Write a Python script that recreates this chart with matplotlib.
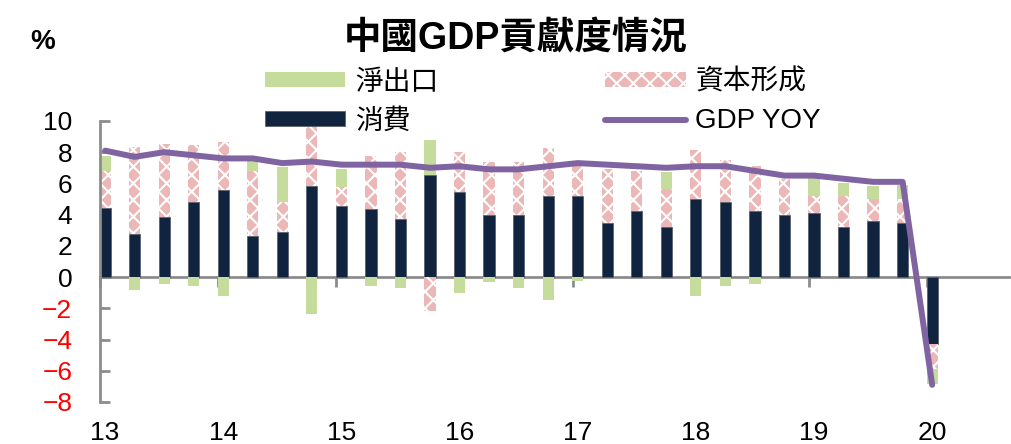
import numpy as np
import matplotlib
matplotlib.use("Agg")
from matplotlib import pyplot as plt

plt.rcParams['font.family'] = ['Liberation Sans', 'Noto Sans CJK TC', 'DejaVu Sans']
plt.rcParams['hatch.linewidth'] = 1.5

# quarterly data 2013Q1 .. 2020Q1 (contribution to GDP, %)
consumption = [4.45, 2.73, 3.85, 4.81, 5.59, 2.60, 2.88, 5.82,
               4.56, 4.34, 3.70, 6.56, 5.46, 3.96, 3.97, 5.21,
               5.21, 3.46, 4.23, 3.23, 4.99, 4.81, 4.23, 3.97,
               4.08, 3.23, 3.59, 3.44, -4.30]
capital = [2.36, 5.59, 4.68, 3.62, 3.06, 4.21, 1.93, 4.00,
           1.19, 3.44, 4.34, -2.15, 2.54, 3.40, 3.42, 3.05,
           2.15, 3.46, 2.58, 2.38, 3.16, 2.71, 2.91, 2.31,
           1.10, 1.99, 1.44, 1.55, -1.57]
net_exports = [0.97, -0.82, -0.45, -0.56, -1.19, 0.65, 2.26, -2.39,
               1.17, -0.56, -0.71, 2.19, -1.03, -0.30, -0.71, -1.45,
               -0.28, 0.00, 0.00, 1.10, -1.19, -0.56, -0.43, 0.00,
               1.14, 0.78, 0.82, 0.90, -0.97]
gdp_yoy = [8.1, 7.7, 8.0, 7.8, 7.6, 7.6, 7.3, 7.4,
           7.2, 7.2, 7.2, 7.0, 7.1, 6.9, 6.9, 7.1,
           7.3, 7.2, 7.1, 7.0, 7.1, 7.1, 6.8, 6.5,
           6.5, 6.3, 6.1, 6.1, -6.9]
year_labels = ['13', '14', '15', '16', '17', '18', '19', '20']

c_green = '#c5dc9c'
c_pink = '#ebb7b7'
c_navy = '#10243f'
c_purple = '#8064a2'
c_axis = '#8c8c8c'

x = np.arange(len(gdp_yoy))
w = 0.38

fig = plt.figure(figsize=(10.11, 4.44), dpi=100)
ax = fig.add_axes([0.099, 0.0946, 0.899, 0.633])

# stacked bars, positives upward and negatives downward
pos_b = np.zeros(len(x))
neg_b = np.zeros(len(x))
series = [(consumption, dict(color=c_navy, edgecolor='#5a6270', linewidth=0.6), '消費'),
          (capital, dict(color=c_pink, edgecolor='white', hatch='xx', linewidth=0), '資本形成'),
          (net_exports, dict(color=c_green, linewidth=0), '淨出口')]
handles = {}
for vals, style, name in series:
    v = np.array(vals)
    bottom = np.where(v >= 0, pos_b, neg_b)
    handles[name] = ax.bar(x, v, w, bottom=bottom, zorder=2, **style)
    pos_b = pos_b + np.clip(v, 0, None)
    neg_b = neg_b + np.clip(v, None, 0)

line, = ax.plot(x, gdp_yoy, color=c_purple, linewidth=4.3, zorder=3,
                solid_joinstyle='round', solid_capstyle='round')

# axes styling
ax.set_xlim(-0.17, 30.6)
ax.set_ylim(-8, 10)
ax.spines['top'].set_visible(False)
ax.spines['right'].set_visible(False)
ax.spines['left'].set_color(c_axis)
ax.spines['left'].set_linewidth(2)
ax.spines['bottom'].set_position(('data', 0))
ax.spines['bottom'].set_color(c_axis)
ax.spines['bottom'].set_linewidth(2)
ax.spines['bottom'].set_zorder(1)

ax.set_yticks(np.arange(-8, 11, 2))
ax.tick_params(axis='y', direction='in', length=7, width=2, color=c_axis,
               labelsize=19, pad=20)
for lab in ax.get_yticklabels():
    if float(lab.get_text().replace('\u2212', '-')) < 0:
        lab.set_color('#ff0000')

ax.set_xticks(np.arange(0, len(x), 4) - 0.17)
ax.tick_params(axis='x', direction='out', length=7, width=2, color=c_axis,
               labelbottom=False)

sec = ax.secondary_xaxis('bottom')
sec.set_xticks(np.arange(0, len(x), 4), year_labels)
sec.tick_params(length=0, labelsize=19, pad=14)
for s in sec.spines.values():
    s.set_visible(False)

# legend
fig.legend([handles['淨出口'], handles['消費'], handles['資本形成'], line],
           ['淨出口', '消費', '資本形成', 'GDP YOY'],
           ncol=2, loc='upper left', bbox_to_anchor=(0.262, 0.843),
           frameon=False, fontsize=20, handlelength=2.9, handleheight=0.45,
           columnspacing=6.0, labelspacing=0.45, handletextpad=0.35,
           borderpad=0, borderaxespad=0)

fig.text(0.51, 0.91, '中國GDP貢獻度情況', ha='center', va='center',
         fontsize=27, fontweight='bold')
fig.text(0.042, 0.905, '%', ha='center', va='center', fontsize=20, fontweight='bold')

fig.savefig('out.png', dpi=100)
